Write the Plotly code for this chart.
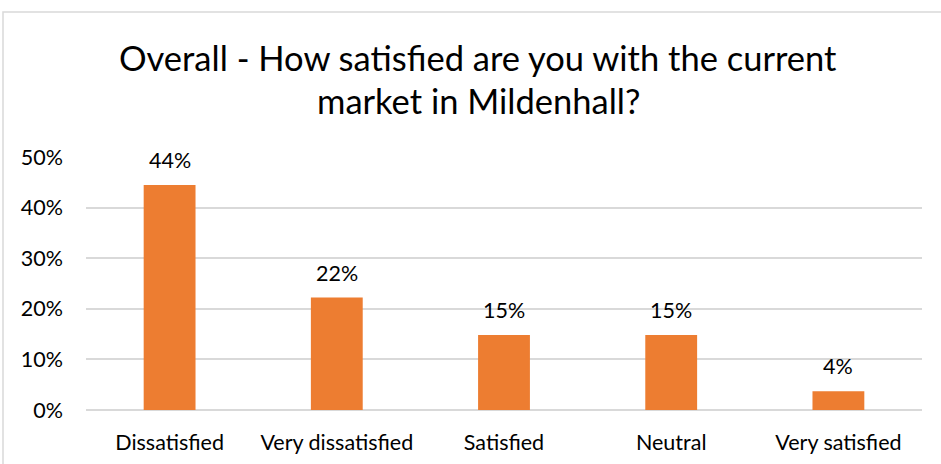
import plotly.graph_objects as go

# Survey responses
categories = ["Dissatisfied", "Very dissatisfied", "Satisfied", "Neutral", "Very satisfied"]
shares = [12 / 27, 6 / 27, 4 / 27, 4 / 27, 1 / 27]
title_lines = ["Overall - How satisfied are you with the current", "market in Mildenhall?"]

BAR_COLOR = "#ED7D31"
GRID_COLOR = "#D9D9D9"
FONT = "Lato, Calibri, sans-serif"
TEXT_COLOR = "#000000"
LABEL_SIZE = 21.5
TITLE_SIZE = 34.5

W, H = 941, 464
L, R, T, B = 86, 19, 157, 54
plot_w = W - L - R
plot_h = H - T - B

fig = go.Figure(
    go.Bar(
        x=categories,
        y=shares,
        marker=dict(color=BAR_COLOR, line=dict(width=0)),
        hoverinfo="skip",
    )
)

# Value labels above each bar
for cat, val in zip(categories, shares):
    fig.add_annotation(
        x=cat, y=val, xref="x", yref="y",
        text=f"{val:.0%}", showarrow=False,
        yanchor="bottom", yshift=10,
        font=dict(family=FONT, size=LABEL_SIZE, color=TEXT_COLOR),
    )

# Two-line chart title, one annotation per line
for i, line in enumerate(title_lines):
    yc = 57 + 43 * i
    fig.add_annotation(
        x=(478 - L) / plot_w, y=(H - B - yc) / plot_h,
        xref="paper", yref="paper",
        text=line, showarrow=False, xanchor="center", yanchor="middle",
        font=dict(family=FONT, size=TITLE_SIZE, color=TEXT_COLOR),
    )

# Chart-area border
fig.add_shape(
    type="rect", xref="paper", yref="paper",
    x0=(3 - L) / plot_w, x1=(W + 20 - L) / plot_w,
    y0=(H - B - (H + 20)) / plot_h, y1=(H - B - 12) / plot_h,
    line=dict(color="#D9D9D9", width=1.5), fillcolor="rgba(0,0,0,0)", layer="below",
)

fig.update_layout(
    width=W, height=H,
    margin=dict(l=L, r=R, t=T, b=B, pad=0, autoexpand=False),
    paper_bgcolor="white", plot_bgcolor="white",
    bargap=0.69,
    showlegend=False,
    font=dict(family=FONT, size=LABEL_SIZE, color=TEXT_COLOR),
)
fig.update_xaxes(
    showgrid=False, showline=False, zeroline=False, ticks="",
    automargin=False, ticklabelstandoff=17,
    tickfont=dict(family=FONT, size=LABEL_SIZE, color=TEXT_COLOR),
)
fig.update_yaxes(
    range=[0, 0.5], dtick=0.1, tickformat=".0%",
    showgrid=True, gridcolor=GRID_COLOR, gridwidth=1.5,
    zeroline=True, zerolinecolor=GRID_COLOR, zerolinewidth=1.5,
    showline=False, ticks="", automargin=False, ticklabelstandoff=22,
    tickfont=dict(family=FONT, size=LABEL_SIZE, color=TEXT_COLOR),
)

fig.write_html("out.html", config={"displayModeBar": False})
